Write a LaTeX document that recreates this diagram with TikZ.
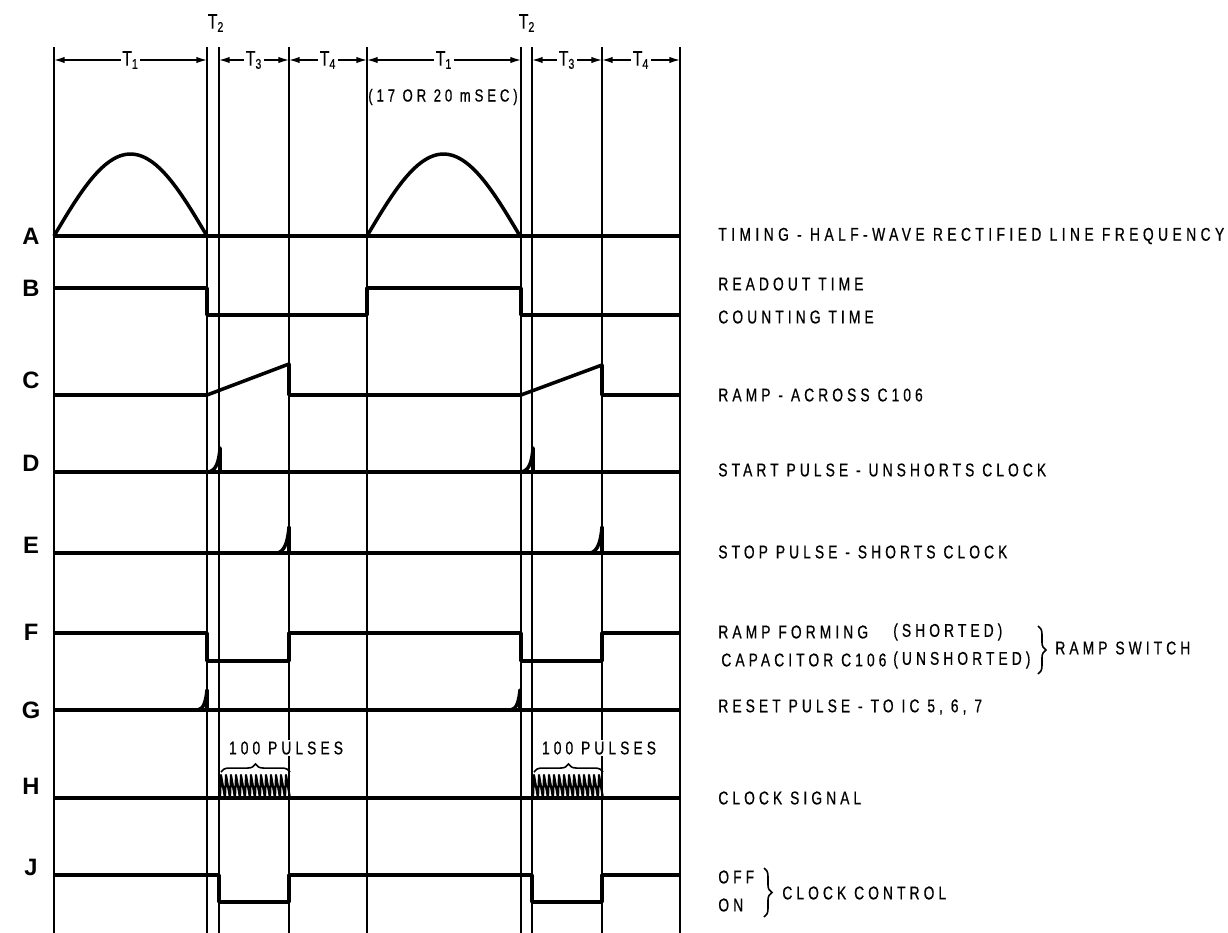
\documentclass[tikz,border=0pt]{standalone}
\usepackage{fontspec}
\setmainfont{Liberation Sans}[FakeStretch=0.75,LetterSpace=22,FakeBold=0.6]
\newfontfamily\tagfont{Liberation Sans}
\usetikzlibrary{decorations.pathreplacing,arrows.meta}

\tikzset{
  wave/.style={line width=2pt, line join=round},
  guide/.style={line width=0.8pt},
  span/.style={{Latex[length=6pt,width=3.6pt]}-{Latex[length=6pt,width=3.6pt]}, line width=0.8pt},
  note/.style={anchor=west, inner sep=0pt, font=\fontsize{10.5}{12}\selectfont},
  tname/.style={inner sep=1pt, font=\fontsize{12}{14}\selectfont},
  tag/.style={inner sep=0pt, font=\tagfont\bfseries\fontsize{13.5}{15}\selectfont},
  curly/.style={decorate, decoration={brace, amplitude=4.5pt}, line width=0.9pt},
}

\begin{document}
\begin{tikzpicture}[x=0.02cm,y=-0.02cm]
  \useasboundingbox (0,0) rectangle (1228,933);

  % time marks, one pair of T2 lines per period
  \foreach \x in {54,207,219,289,367,521,532,602,680}
    \draw[guide] (\x,47) -- (\x,933);

  % interval arrows along the top
  \foreach \a/\b/\t/\n in {54/207/1/p1, 219/289/3/p3, 289/367/4/p4, 367/521/1/q1, 532/602/3/q3, 602/680/4/q4}
    \draw[span] (\a,60) -- node[tname, fill=white] (dim\n) {T\textsubscript{\t}} (\b,60);
  \node[tname] (tzwo1) at (216,23) {T\textsubscript{2}};
  \node[tname] (tzwo2) at (527,23) {T\textsubscript{2}};
  \node[font=\fontsize{10}{12}\selectfont] (period) at (443,97) {(17 OR 20 mSEC)};

  % signal letters
  \foreach \y/\l in {236/A, 288/B, 380/C, 463/D, 545/E, 632/F, 710/G, 786/H, 867/J}
    \node[tag] (sig\l) at (31,\y) {\l};

  % A: half-wave rectified line
  \draw[wave] (54,236) -- (680,236);
  \foreach \s in {0,313}
    \draw[wave, shift={(\s,0)}] plot[domain=0:180, samples=40] ({54+0.85*\x},{236-82*sin(\x)});

  % B: readout / counting
  \draw[wave] (54,288) -- (207,288) -- (207,315) -- (367,315) -- (367,288)
    -- (521,288) -- (521,315) -- (680,315);

  % C: ramp across C106
  \draw[wave] (54,395) -- (207,395) -- (289,364) -- (289,395) -- (521,395)
    -- (602,365) -- (602,395) -- (680,395);

  % D: start pulse
  \draw[wave] (54,472) -- (680,472);
  \foreach \s in {0,313}
    \draw[wave, shift={(\s,0)}] (208,472) .. controls (216,471) and (219,462) .. (220,448) -- (220,472);

  % E: stop pulse
  \draw[wave] (54,553) -- (680,553);
  \foreach \s in {0,313}
    \draw[wave, shift={(\s,0)}] (277,553) .. controls (285,552) and (288,540) .. (289,527) -- (289,553);

  % F: ramp switch
  \draw[wave] (54,633) -- (207,633) -- (207,661) -- (289,661) -- (289,633)
    -- (521,633) -- (521,661) -- (602,661) -- (602,633) -- (680,633);

  % G: reset pulse
  \draw[wave] (54,710) -- (680,710);
  \foreach \s in {0,313}
    \draw[wave, shift={(\s,0)}] (198,710) .. controls (204,709) and (206,700) .. (207,690) -- (207,710);

  % H: clock signal
  \draw[wave] (54,798) -- (680,798);
  \foreach \s/\n in {0/a,313/b} {
    \draw[wave, line width=1.2pt, shift={(\s,0)}] (220,798)
      \foreach \k in {0,...,13} { -- ({220+5*\k+1},775) -- ({220+5*\k+5},798) };
    \draw[curly, shift={(\s,0)}] (221,772) -- (290,772);
    \node[fill=white, inner sep=1pt, font=\fontsize{10.5}{12}\selectfont, shift={(\s,0)}] (count\n) at (286,748) {100 PULSES};
  }

  % J: clock control
  \draw[wave] (54,875) -- (219,875) -- (219,902) -- (289,902) -- (289,875)
    -- (532,875) -- (532,902) -- (602,902) -- (602,875) -- (680,875);

  % legend on the right
  \node[note] (nA)  at (718,236) {\addfontfeature{LetterSpace=24}TIMING - HALF-WAVE RECTIFIED LINE FREQUENCY};
  \node[note] (nB1) at (718,284) {READOUT TIME};
  \node[note] (nB2) at (718,317) {COUNTING TIME};
  \node[note] (nC)  at (718,395) {RAMP - ACROSS C106};
  \node[note] (nD)  at (718,470) {START PULSE - UNSHORTS CLOCK};
  \node[note] (nE)  at (718,552) {STOP PULSE - SHORTS CLOCK};
  \node[note] (nF1) at (718,632) {RAMP FORMING};
  \node[note] (nF3) at (721,660) {CAPACITOR C106};
  \node[note] (nF4) at ([xshift=3.5pt]nF3.east) {(UNSHORTED)};
  \node[note] (nF2) at (nF4.west |- nF1.west) {(SHORTED)};
  \draw[curly] (1038,626) -- (1038,674);
  \node[note] (nF5) at (1055,648) {RAMP SWITCH};
  \node[note] (nG)  at (718,707) {RESET PULSE - TO IC 5, 6, 7};
  \node[note] (nH)  at (718,798) {CLOCK SIGNAL};
  \node[note] (nJ1) at (718,877) {OFF};
  \node[note] (nJ2) at (718,905) {ON};
  \draw[curly] (764,868) -- (764,917);
  \node[note] (nJ3) at (782,893) {CLOCK CONTROL};
\end{tikzpicture}
\end{document}
